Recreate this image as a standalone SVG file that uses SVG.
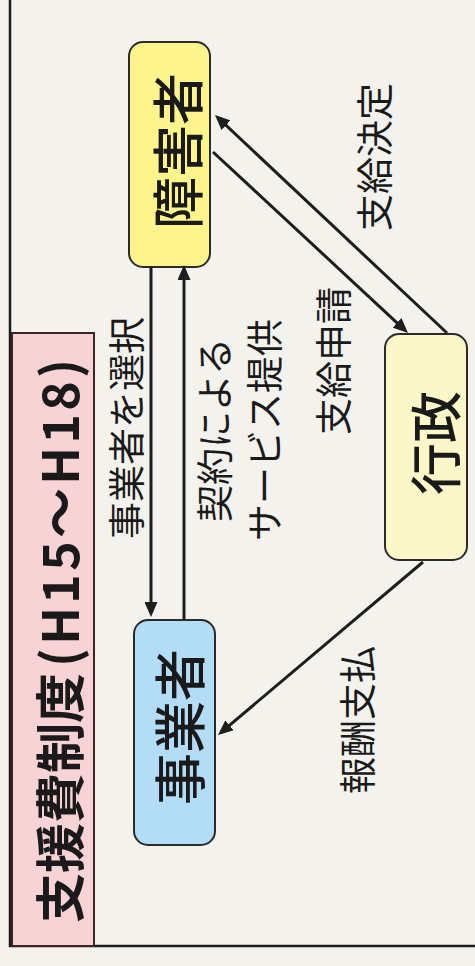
<svg xmlns="http://www.w3.org/2000/svg" width="475" height="966" viewBox="0 0 475 966">
<style>
  .jp { font-family: "Noto Sans CJK JP", "Noto Sans CJK SC", sans-serif; fill: #1a1a1a; }
  .node { stroke: #2b2b2b; stroke-width: 2; }
  .lbl { font-size: 37px; font-weight: 400; }
  .nlbl { font-size: 52px; font-weight: 500; }
  .conn line { stroke: #1e1e1e; stroke-width: 3; fill: none; }
</style>
<defs>
  <marker id="ah" viewBox="0 0 15 13" refX="11" refY="6.5" markerWidth="15" markerHeight="13" markerUnits="userSpaceOnUse" orient="auto">
    <path d="M0,0 L15,6.5 L0,13 z" fill="#1e1e1e"/>
  </marker>
</defs>
<rect x="0" y="0" width="475" height="966" fill="#f4f2ed"/>
<g id="frame">
  <path d="M10,0 L10,946 L475,946" fill="none" stroke="#1e1e1e" stroke-width="2.5"/>
</g>
<g id="title">
  <rect x="12" y="333" width="82" height="613" fill="#f8d3d6" stroke="#3a2424" stroke-width="2"/>
  <text class="jp" transform="translate(57,923) rotate(-90)" x="0" y="0" dominant-baseline="central" font-size="50" font-weight="700">支援費制度<tspan dx="6" textLength="308" lengthAdjust="spacing">(H15～H18)</tspan></text>
</g>
<g id="node-shogaisha">
  <rect class="node" x="129" y="42" width="81" height="225" rx="14" fill="#fdf58c"/>
  <text class="jp nlbl" transform="translate(175,151) rotate(-90)" text-anchor="middle" dominant-baseline="central">障害者</text>
</g>
<g id="node-jigyosha">
  <rect class="node" x="134" y="620" width="81" height="225" rx="14" fill="#b3dcf7"/>
  <text class="jp nlbl" transform="translate(177,727) rotate(-90)" text-anchor="middle" dominant-baseline="central">事業者</text>
</g>
<g id="node-gyosei">
  <rect class="node" x="385" y="334" width="82" height="226" rx="14" fill="#fbf7c8"/>
  <text class="jp nlbl" transform="translate(433,443) rotate(-90)" text-anchor="middle" dominant-baseline="central">行政</text>
</g>
<g id="connectors" class="conn">
  <line x1="151" y1="267" x2="151" y2="613" marker-end="url(#ah)"/>
  <line x1="184" y1="620" x2="184" y2="269" marker-end="url(#ah)"/>
  <line x1="213" y1="152" x2="405.1" y2="330.3" marker-end="url(#ah)"/>
  <line x1="447" y1="333" x2="217.9" y2="117.7" marker-end="url(#ah)"/>
  <line x1="423" y1="562" x2="221.1" y2="732.4" marker-end="url(#ah)"/>
</g>
<g id="labels">
  <text class="jp lbl" transform="translate(125,428) rotate(-90)" text-anchor="middle" dominant-baseline="central">事業者を選択</text>
  <text class="jp lbl" transform="translate(213,430) rotate(-90)" text-anchor="middle" dominant-baseline="central">契約による</text>
  <text class="jp lbl" transform="translate(263,430) rotate(-90)" text-anchor="middle" dominant-baseline="central">サービス提供</text>
  <text class="jp lbl" transform="translate(332,361) rotate(-90)" text-anchor="middle" dominant-baseline="central">支給申請</text>
  <text class="jp lbl" transform="translate(373,157) rotate(-90)" text-anchor="middle" dominant-baseline="central">支給決定</text>
  <text class="jp lbl" transform="translate(356,720) rotate(-90)" text-anchor="middle" dominant-baseline="central">報酬支払</text>
</g>
</svg>
